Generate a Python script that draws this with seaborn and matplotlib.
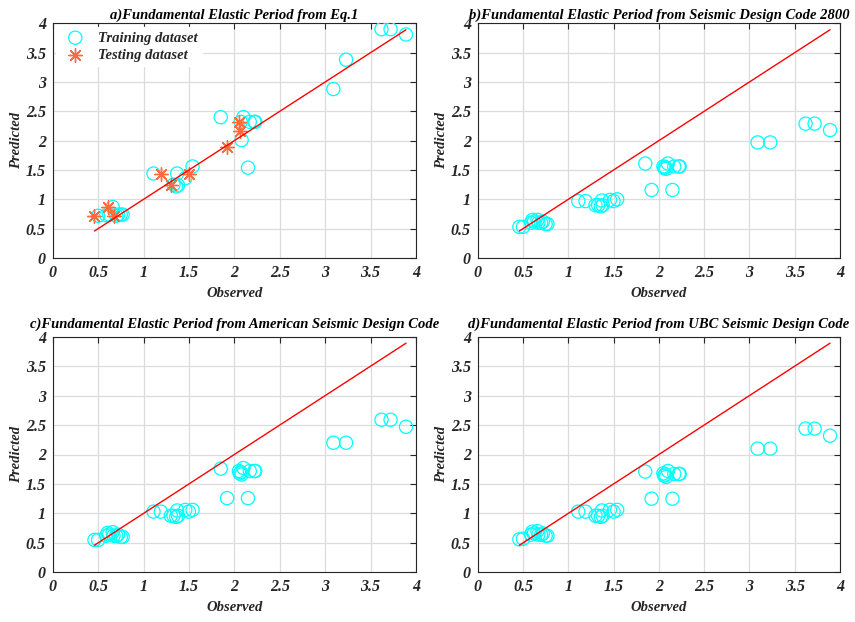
import numpy as np
import pandas as pd
import matplotlib
matplotlib.use("Agg")
import matplotlib.pyplot as plt
import seaborn as sns

# ---- data ----
observed = [0.46, 0.50, 0.59, 0.605, 0.62, 0.66, 0.67, 0.70, 0.72, 0.75, 0.77,
            1.11, 1.19, 1.30, 1.33, 1.36, 1.37, 1.38, 1.46, 1.50, 1.54,
            1.85, 1.92, 2.05, 2.06, 2.07, 2.08, 2.10, 2.15, 2.17, 2.22, 2.23,
            3.09, 3.23, 3.62, 3.72, 3.89]
dataset = ["Testing", "Training", "Training", "Testing", "Training", "Training", "Testing",
           "Training", "Training", "Training", "Training",
           "Training", "Testing", "Testing", "Training", "Training", "Training", "Training",
           "Training", "Testing", "Training",
           "Training", "Testing", "Testing", "Testing", "Training", "Training", "Training",
           "Training", "Training", "Training", "Training",
           "Training", "Training", "Training", "Training", "Training"]
pred_eq1 = [0.72, 0.72, 0.73, 0.87, 0.74, 0.87, 0.72, 0.72, 0.74, 0.74, 0.74,
            1.44, 1.44, 1.25, 1.25, 1.22, 1.44, 1.24, 1.36, 1.44, 1.56,
            2.40, 1.90, 2.32, 2.16, 2.32, 2.01, 2.40, 1.54, 2.32, 2.32, 2.32,
            2.88, 3.38, 3.90, 3.90, 3.81]
pred_2800 = [0.53, 0.53, 0.60, 0.65, 0.62, 0.65, 0.60, 0.60, 0.62, 0.58, 0.58,
             0.97, 0.97, 0.90, 0.90, 0.88, 0.98, 0.90, 0.99, 0.97, 1.00,
             1.61, 1.16, 1.56, 1.53, 1.55, 1.52, 1.61, 1.16, 1.56, 1.56, 1.56,
             1.97, 1.97, 2.29, 2.29, 2.18]
pred_asce = [0.55, 0.55, 0.62, 0.67, 0.64, 0.68, 0.62, 0.62, 0.64, 0.60, 0.60,
             1.03, 1.03, 0.96, 0.96, 0.94, 1.05, 0.96, 1.06, 1.03, 1.06,
             1.76, 1.26, 1.72, 1.68, 1.70, 1.66, 1.77, 1.26, 1.72, 1.72, 1.72,
             2.20, 2.20, 2.59, 2.59, 2.47]
pred_ubc = [0.56, 0.57, 0.64, 0.69, 0.66, 0.70, 0.64, 0.64, 0.66, 0.62, 0.62,
            1.03, 1.03, 0.96, 0.96, 0.94, 1.05, 0.96, 1.06, 1.03, 1.06,
            1.71, 1.25, 1.68, 1.64, 1.66, 1.62, 1.72, 1.25, 1.67, 1.67, 1.67,
            2.10, 2.10, 2.44, 2.44, 2.32]
titles = ["a)Fundamental Elastic Period from Eq.1",
          "b)Fundamental Elastic Period from Seismic Design Code 2800",
          "c)Fundamental Elastic Period from American Seismic Design Code",
          "d)Fundamental Elastic Period from UBC Seismic Design Code"]
ticks = [0, 0.5, 1, 1.5, 2, 2.5, 3, 3.5, 4]
tick_labels = ["0", "0.5", "1", "1.5", "2", "2.5", "3", "3.5", "4"]

df = pd.DataFrame({"Observed": observed, "set": dataset,
                   "a": pred_eq1, "b": pred_2800, "c": pred_asce, "d": pred_ubc})

sns.set_style("white")
plt.rcParams["font.family"] = ["Liberation Serif", "DejaVu Serif"]
plt.rcParams["font.weight"] = "bold"
plt.rcParams["font.style"] = "italic"

W, H = 855, 622
fig = plt.figure(figsize=(W / 100, H / 100), dpi=100)

boxes = [(52.7, 23.3, 416, 258), (477.7, 23.3, 840, 258),
         (52.7, 336.7, 416, 572.3), (477.7, 336.7, 840, 572.3)]
cols = ["a", "b", "c", "d"]
title_pads = [3.5, 3.5, 6.5, 6.5]
cyan = "#00FFFF"
orange = "#FF6A3D"
txtc = "#262626"

line_x = [min(observed), max(observed)]

for i, (box, col, title) in enumerate(zip(boxes, cols, titles)):
    l, t, r, b = box
    ax = fig.add_axes([l / W, 1 - b / H, (r - l) / W, (b - t) / H])
    if col == "a":
        tr = df[df["set"] == "Training"]
        te = df[df["set"] == "Testing"]
        sns.scatterplot(x=tr["Observed"], y=tr[col], ax=ax, marker="o", s=90,
                        facecolor="none", edgecolor=cyan, linewidth=0.9,
                        label="Training dataset", zorder=3)
        sns.scatterplot(x=te["Observed"], y=te[col], ax=ax, marker=(8, 2, 0), s=95,
                        color=orange, edgecolor=orange, linewidth=1.0,
                        label="Testing dataset", zorder=4)
    else:
        sns.scatterplot(x=df["Observed"], y=df[col], ax=ax, marker="o", s=90,
                        facecolor="none", edgecolor=cyan, linewidth=0.9, zorder=3)
    sns.lineplot(x=line_x, y=line_x, ax=ax, color="red", linewidth=1.0, zorder=5)

    ax.set_xlim(0, 4)
    ax.set_ylim(0, 4)
    ax.set_xticks(ticks)
    ax.set_yticks(ticks)
    ax.set_xticklabels(tick_labels)
    ax.set_yticklabels(tick_labels)
    ax.grid(True, color="#DCDCDC", linewidth=0.9)
    ax.set_axisbelow(True)
    for s in ax.spines.values():
        s.set_visible(True)
        s.set_color("#262626")
        s.set_linewidth(0.8)
    ax.tick_params(direction="in", length=4, width=0.8, top=True, right=True,
                   labelsize=11.5, colors=txtc, labelcolor=txtc, pad=5)
    for lab in ax.get_xticklabels() + ax.get_yticklabels():
        lab.set_fontweight("bold")
        lab.set_fontstyle("italic")
    ax.set_xlabel("Observed", fontsize=10.5, fontweight="bold", fontstyle="italic",
                  color=txtc, labelpad=4)
    ax.set_ylabel("Predicted", fontsize=10.5, fontweight="bold", fontstyle="italic",
                  color=txtc)
    ax.yaxis.set_label_coords(-0.083, 0.5)
    ax.set_title(title, fontsize=10.5, fontweight="bold", fontstyle="italic",
                 color="black", pad=title_pads[i])
    if col == "a":
        leg = ax.legend(loc="upper left", frameon=True, fancybox=False,
                        edgecolor="white", facecolor="white", framealpha=1,
                        prop={"size": 10.5, "weight": "bold", "style": "italic"},
                        borderpad=0.3, handletextpad=0.55, labelspacing=0.3,
                        borderaxespad=0.25)
    else:
        if ax.get_legend() is not None:
            ax.get_legend().remove()

fig.savefig("out.png", dpi=100)
